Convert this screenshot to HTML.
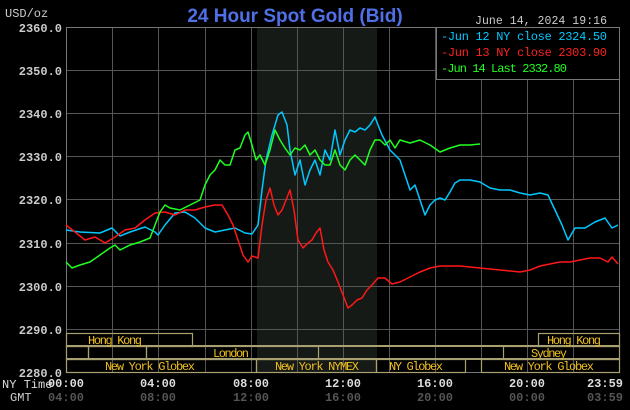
<!DOCTYPE html>
<html><head><meta charset="utf-8"><style>
html,body{margin:0;padding:0;background:#000;width:630px;height:410px;overflow:hidden}
svg{display:block}
text{font-family:"Liberation Mono",monospace;font-size:12px}
</style></head><body>
<svg width="630" height="410" viewBox="0 0 630 410" xmlns="http://www.w3.org/2000/svg">
<rect width="630" height="410" fill="#000"/>
<rect x="257" y="27" width="120" height="345" fill="#161a16"/>
<g stroke="#555" stroke-width="1" fill="none">
<line x1="66" y1="70.5" x2="620" y2="70.5"/><line x1="66" y1="113.5" x2="620" y2="113.5"/>
<line x1="66" y1="156.5" x2="620" y2="156.5"/><line x1="66" y1="199.5" x2="620" y2="199.5"/>
<line x1="66" y1="243.5" x2="620" y2="243.5"/><line x1="66" y1="286.5" x2="620" y2="286.5"/>
<line x1="66" y1="329.5" x2="620" y2="329.5"/>
<line x1="112.5" y1="27" x2="112.5" y2="372"/><line x1="158.5" y1="27" x2="158.5" y2="372"/>
<line x1="205.5" y1="27" x2="205.5" y2="372"/><line x1="251.5" y1="27" x2="251.5" y2="372"/>
<line x1="297.5" y1="27" x2="297.5" y2="372"/><line x1="343.5" y1="27" x2="343.5" y2="372"/>
<line x1="389.5" y1="27" x2="389.5" y2="372"/><line x1="435.5" y1="27" x2="435.5" y2="372"/>
<line x1="481.5" y1="27" x2="481.5" y2="372"/><line x1="527.5" y1="27" x2="527.5" y2="372"/>
<line x1="573.5" y1="27" x2="573.5" y2="372"/>
</g>
<rect x="66.5" y="27.5" width="553" height="345" fill="none" stroke="#777"/>
<g fill="none" stroke="#a8a070" stroke-width="2">
<line x1="66" y1="346" x2="620" y2="346"/><line x1="66" y1="359" x2="620" y2="359"/>
</g>
<g fill="none" stroke="#a8a070" stroke-width="1.2">
<rect x="66.5" y="333.5" width="126" height="13"/><rect x="538.5" y="333.5" width="81" height="13"/>
<rect x="66.5" y="346.5" width="22" height="13"/><rect x="88.5" y="346.5" width="58" height="13"/>
<rect x="146.5" y="346.5" width="172" height="13"/><rect x="503.5" y="346.5" width="116" height="13"/>
<rect x="66.5" y="359.5" width="190" height="13"/><rect x="256.5" y="359.5" width="120" height="13"/>
<rect x="376.5" y="359.5" width="89" height="13"/><rect x="481.5" y="359.5" width="138" height="13"/>
</g>
<g fill="#f0c020" style="font-size:10.5px">
<text x="88" y="344" textLength="54">Hong Kong</text><text x="547" y="344" textLength="54">Hong Kong</text>
<text x="213" y="357" textLength="36">London</text><text x="531" y="357" textLength="36">Sydney</text>
<text x="105" y="370" textLength="90">New York Globex</text><text x="275" y="370" textLength="84">New York NYMEX</text>
<text x="389" y="370" textLength="54">NY Globex</text><text x="504" y="370" textLength="90">New York Globex</text>
</g>
<rect x="436.5" y="27.5" width="183" height="52" fill="#000" stroke="#777"/>
<g style="font-size:11px">
<text x="441" y="40" fill="#00c8ff" textLength="166">-Jun 12 NY close 2324.50</text>
<text x="441" y="56" fill="#ff2020" textLength="166">-Jun 13 NY close 2303.90</text>
<text x="441" y="72" fill="#20ff20" textLength="126">-Jun 14 Last 2332.80</text>
</g>
<g fill="#ccc" style="font-size:13px;font-weight:bold" text-anchor="end">
<text x="62" y="32">2360.0</text><text x="62" y="75">2350.0</text><text x="62" y="118">2340.0</text>
<text x="62" y="161">2330.0</text><text x="62" y="204">2320.0</text><text x="62" y="248">2310.0</text>
<text x="62" y="291">2300.0</text><text x="62" y="334">2290.0</text><text x="62" y="377">2280.0</text>
</g>
<text x="5" y="17" fill="#ccc">USD/oz</text>
<text x="295" y="22" fill="#5070e8" text-anchor="middle" style="font-family:'Liberation Sans',sans-serif;font-size:19px;font-weight:bold">24 Hour Spot Gold (Bid)</text>
<text x="475" y="24" fill="#ccc" textLength="132" style="font-size:11.5px">June 14, 2024 19:16</text>
<g fill="#ddd" text-anchor="middle" style="font-size:12px;font-weight:bold">
<text x="2" y="388" text-anchor="start" style="font-weight:normal">NY Time</text>
<text x="66" y="387">00:00</text><text x="158" y="387">04:00</text><text x="251" y="387">08:00</text>
<text x="343" y="387">12:00</text><text x="435" y="387">16:00</text><text x="527" y="387">20:00</text><text x="605" y="387">23:59</text>
</g>
<g fill="#555" text-anchor="middle" style="font-size:12px;font-weight:bold">
<text x="10" y="401" fill="#ccc" text-anchor="start" style="font-weight:normal">GMT</text>
<text x="66" y="401">04:00</text><text x="158" y="401">08:00</text><text x="251" y="401">12:00</text>
<text x="343" y="401">16:00</text><text x="435" y="401">20:00</text><text x="527" y="401">00:00</text><text x="605" y="401">03:59</text>
</g>
<g fill="none" stroke-width="1.5" stroke-linejoin="round">
<polyline stroke="#00c8ff" points="66,230 80,232 100,233 112,228 120,236 130,232 145,227 155,232 158,235 165,225 175,213 185,212 195,218 205,228 215,232 225,230 235,228 245,233 252,234 258,225 262,190 266,160 272,135 278,115 282,112 287,125 290,150 295,175 300,160 305,185 310,170 315,160 320,175 325,150 330,160 335,130 340,155 345,140 350,130 355,132 360,128 365,130 370,125 375,117 378,125 382,135 390,150 395,155 400,160 405,175 410,190 415,185 420,200 425,215 430,205 435,200 440,198 445,200 450,192 455,183 460,180 470,180 480,182 490,188 500,190 510,190 520,193 530,195 540,193 548,195 555,210 562,225 568,240 575,228 585,228 595,222 605,218 612,228 618,225"/>
<polyline stroke="#ff1818" points="66,225 75,232 85,240 95,237 105,243 115,237 125,230 135,228 145,220 155,213 165,212 175,215 185,210 195,210 205,207 215,205 222,205 228,215 233,225 238,240 243,255 248,262 252,256 258,258 262,225 266,200 270,188 274,205 278,215 282,210 286,200 290,190 294,210 298,240 303,248 308,243 312,240 316,233 320,228 324,250 328,262 333,270 338,282 343,295 348,308 352,305 357,300 362,298 367,290 372,285 378,278 385,278 392,284 400,282 410,277 420,272 430,268 440,266 460,266 480,268 500,270 520,272 530,270 540,266 550,264 560,262 570,262 580,260 590,258 600,258 608,262 612,257 618,264"/>
<polyline stroke="#20ff20" points="66,262 72,268 80,265 90,262 100,255 110,248 115,245 120,250 130,245 140,242 150,238 160,212 165,205 170,208 180,210 190,205 200,200 205,185 210,175 215,170 220,160 225,165 230,165 235,150 240,148 245,135 248,132 252,145 256,160 260,155 265,165 270,150 275,130 280,140 285,148 290,155 295,148 300,150 305,145 310,155 315,150 320,160 325,165 330,165 335,150 340,165 345,170 350,160 355,155 360,160 365,165 370,150 375,140 380,140 385,145 390,140 395,148 400,140 410,143 420,140 430,145 440,152 450,148 460,145 470,145 480,144"/>
</g>
</svg>
</body></html>
